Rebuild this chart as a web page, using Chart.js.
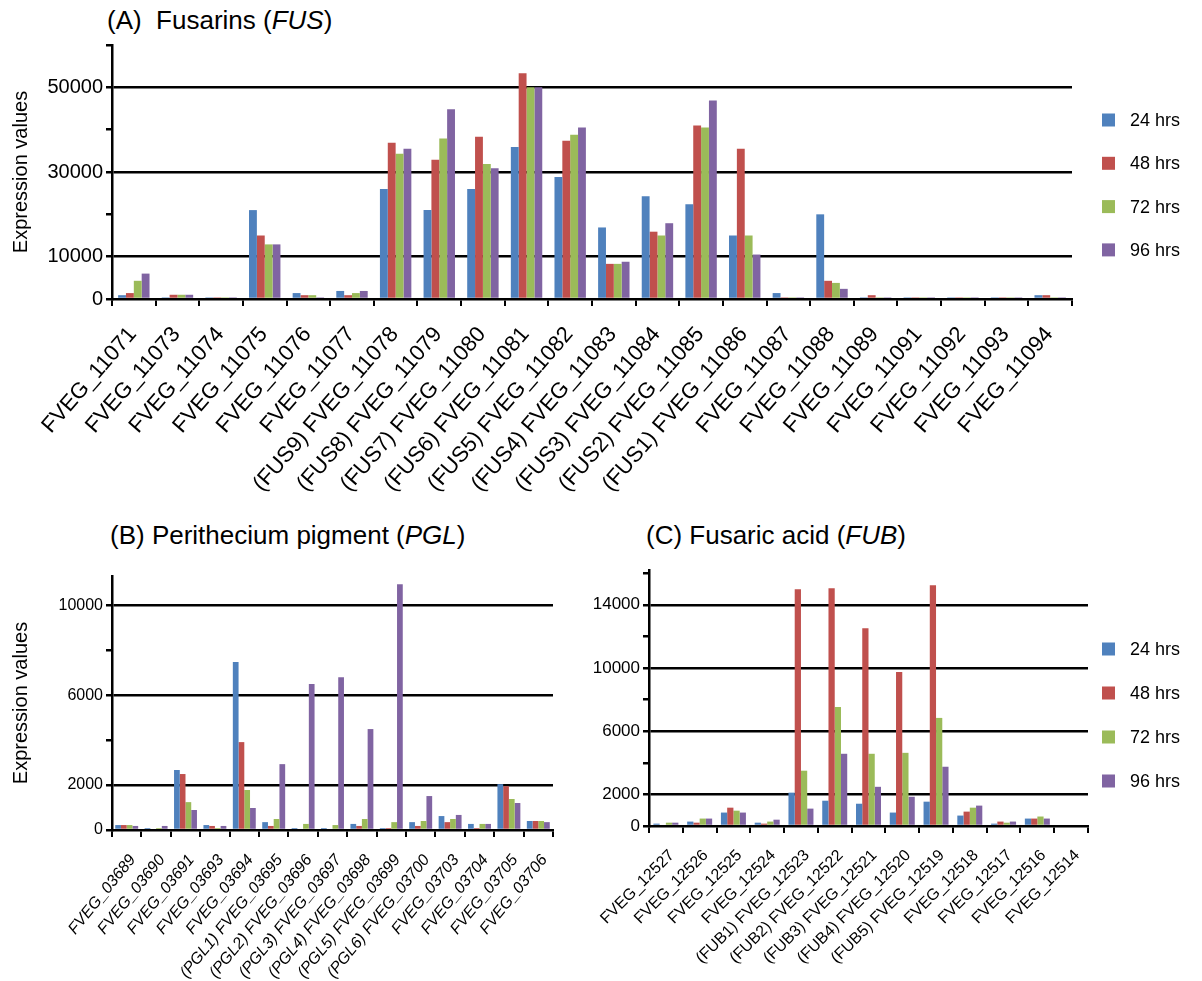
<!DOCTYPE html>
<html>
<head>
<meta charset="utf-8">
<script src="https://cdn.jsdelivr.net/npm/chart.js@4/dist/chart.umd.min.js"></script>
<style>
  html, body { margin: 0; padding: 0; background: #fff; }
  body { width: 1202px; height: 981px; position: relative; overflow: hidden;
         font-family: "Liberation Sans", Arial, sans-serif; color: #000; }
  canvas { position: absolute; }
  .ttl { position: absolute; font-size: 26px; line-height: 30px; white-space: pre; }
</style>
</head>
<body>
<div class="ttl" style="left:107px; top:5px;">(A)  Fusarins (<i>FUS</i>)</div>
<div class="ttl" style="left:110px; top:520px;">(B) Perithecium pigment (<i>PGL</i>)</div>
<div class="ttl" style="left:646px; top:520px;">(C) Fusaric acid (<i>FUB</i>)</div>
<canvas id="cA" width="1202" height="500" style="left:0; top:0;"></canvas>
<canvas id="cB" width="590" height="481" style="left:0; top:500px;"></canvas>
<canvas id="cC" width="622" height="481" style="left:580px; top:500px;"></canvas>
<script>
// Sampling times
const timePoints = ['24 hrs', '48 hrs', '72 hrs', '96 hrs'];
const seriesColors = ['#4F81BD', '#C0504D', '#9BBB59', '#8064A2'];

// (A) Fusarin cluster
const fusGenes = ['FVEG_11071', 'FVEG_11073', 'FVEG_11074', 'FVEG_11075', 'FVEG_11076', 'FVEG_11077',
  '(FUS9) FVEG_11078', '(FUS8) FVEG_11079', '(FUS7) FVEG_11080', '(FUS6) FVEG_11081', '(FUS5) FVEG_11082',
  '(FUS4) FVEG_11083', '(FUS3) FVEG_11084', '(FUS2) FVEG_11085', '(FUS1) FVEG_11086',
  'FVEG_11087', 'FVEG_11088', 'FVEG_11089', 'FVEG_11091', 'FVEG_11092', 'FVEG_11093', 'FVEG_11094'];
const fus24 = [900, 400, 400, 21000, 1400, 1900, 26000, 21000, 26000, 35900, 28800, 16900, 24300, 22400, 15000, 1400, 20000, 400, 400, 400, 400, 900];
const fus48 = [1400, 1000, 400, 15000, 900, 900, 36900, 32900, 38300, 53300, 37400, 8300, 15900, 41000, 35500, 400, 4300, 900, 400, 400, 400, 900];
const fus72 = [4300, 1000, 400, 12900, 900, 1400, 34300, 37900, 31900, 50000, 38800, 8300, 15000, 40500, 15000, 400, 3800, 400, 400, 400, 400, 400];
const fus96 = [6000, 1000, 400, 12900, 400, 1900, 35500, 44800, 30900, 50000, 40500, 8800, 17900, 46900, 10500, 400, 2400, 400, 400, 400, 400, 400];
const fusTicks = [0, 10000, 20000, 30000, 40000, 50000, 60000];
const fusLabelled = [0, 10000, 30000, 50000];

// (B) Perithecium pigment cluster
const pglGenes = ['FVEG_03689', 'FVEG_03690', 'FVEG_03691', 'FVEG_03693', 'FVEG_03694',
  '(PGL1) FVEG_03695', '(PGL2) FVEG_03696', '(PGL3) FVEG_03697', '(PGL4) FVEG_03698', '(PGL5) FVEG_03699',
  '(PGL6) FVEG_03700', 'FVEG_03703', 'FVEG_03704', 'FVEG_03705', 'FVEG_03706'];
const pgl24 = [220, 90, 2670, 220, 7470, 350, 90, 90, 270, 90, 350, 620, 270, 2040, 400];
const pgl48 = [220, 0, 2490, 180, 3910, 180, 0, 0, 180, 90, 180, 350, 90, 1950, 400];
const pgl72 = [220, 90, 1240, 90, 1780, 490, 270, 220, 490, 350, 400, 490, 270, 1380, 400];
const pgl96 = [180, 180, 890, 180, 980, 2930, 6490, 6800, 4490, 10930, 1510, 670, 270, 1200, 350];
const pglTicks = [0, 2000, 4000, 6000, 8000, 10000];
const pglLabelled = [0, 2000, 6000, 10000];

// (C) Fusaric acid cluster
const fubGenes = ['FVEG_12527', 'FVEG_12526', 'FVEG_12525', 'FVEG_12524',
  '(FUB1) FVEG_12523', '(FUB2) FVEG_12522', '(FUB3) FVEG_12521', '(FUB4) FVEG_12520', '(FUB5) FVEG_12519',
  'FVEG_12518', 'FVEG_12517', 'FVEG_12516', 'FVEG_12514'];
const fub24 = [150, 280, 850, 210, 2110, 1600, 1410, 850, 1540, 660, 150, 470, 0];
const fub48 = [0, 210, 1160, 150, 14980, 15050, 12510, 9740, 15240, 910, 280, 470, 0];
const fub72 = [210, 470, 970, 280, 3500, 7530, 4570, 4630, 6840, 1160, 210, 600, 0];
const fub96 = [210, 470, 850, 400, 1100, 4570, 2480, 1850, 3750, 1290, 280, 470, 0];
const fubTicks = [0, 2000, 4000, 6000, 8000, 10000, 12000, 14000, 16000];
const fubLabelled = [0, 2000, 6000, 10000, 14000];

const FONT = '"Liberation Sans", Arial, sans-serif';

// Legend drawn beside the plot, one row per time point
const sideLegend = {
  id: 'sideLegend',
  afterDraw(chart, args, opts) {
    if (!opts || !opts.display) return;
    const ctx = chart.ctx;
    ctx.save();
    ctx.font = opts.fontSize + 'px ' + FONT;
    ctx.textBaseline = 'middle';
    ctx.textAlign = 'left';
    chart.data.datasets.forEach((ds, i) => {
      const y = opts.y + i * opts.gap;
      ctx.fillStyle = ds.backgroundColor;
      ctx.fillRect(opts.x, y - opts.box / 2, opts.box, opts.box);
      ctx.fillStyle = '#000';
      ctx.fillText(ds.label, opts.x + opts.box + opts.textGap, y + 1);
    });
    ctx.restore();
  }
};

function makeChart(id, cfg) {
  const datasets = cfg.series.map((vals, i) => ({
    label: timePoints[i],
    data: vals,
    backgroundColor: seriesColors[i],
    borderWidth: 0,
    categoryPercentage: cfg.catPct,
    barPercentage: 1.0
  }));
  const canvas = document.getElementById(id);
  return new Chart(canvas, {
    type: 'bar',
    data: { labels: cfg.labels, datasets },
    plugins: [sideLegend],
    options: {
      responsive: false,
      animation: false,
      events: [],
      layout: { padding: cfg.padding },
      plugins: {
        legend: { display: false },
        tooltip: { enabled: false },
        title: { display: false },
        sideLegend: cfg.legend
      },
      scales: {
        x: {
          grid: { offset: true, drawOnChartArea: false, color: '#000', lineWidth: 2, tickLength: 7 },
          border: { color: '#000', width: 2.5 },
          ticks: {
            autoSkip: false,
            minRotation: cfg.rot, maxRotation: cfg.rot,
            color: '#000',
            padding: cfg.xPad,
            labelOffset: cfg.xOff,
            font: { family: FONT, size: cfg.xFont, style: cfg.xItalic ? 'italic' : 'normal' }
          },
          afterFit: s => { s.height = cfg.xHeight; }
        },
        y: {
          min: 0, max: cfg.yMax,
          afterBuildTicks: s => { s.ticks = cfg.yTicks.map(v => ({ value: v })); },
          grid: {
            color: c => (c.tick && c.tick.value !== 0 && cfg.yLabelled.includes(c.tick.value)) ? '#000' : 'rgba(0,0,0,0)',
            tickColor: '#000',
            lineWidth: 2.5,
            tickLength: 6
          },
          border: { color: '#000', width: 2.5 },
          ticks: {
            color: '#000',
            padding: 3,
            font: { family: FONT, size: cfg.yFont },
            callback: v => cfg.yLabelled.includes(v) ? String(v) : ''
          },
          title: cfg.yTitle ? {
            display: true,
            text: 'Expression values',
            color: '#000',
            font: { family: FONT, size: 20 },
            padding: { top: 9, bottom: 0 }
          } : { display: false },
          afterFit: s => { s.width = cfg.yWidth; }
        }
      }
    }
  });
}

makeChart('cA', {
  labels: fusGenes, series: [fus24, fus48, fus72, fus96],
  catPct: 0.72, padding: { left: 0, top: 45, right: 130, bottom: 0 },
  yWidth: 112, xHeight: 201, yMax: 60000, yTicks: fusTicks, yLabelled: fusLabelled,
  yFont: 20, yTitle: true, rot: 49, xFont: 22, xPad: 16, xOff: -1, xItalic: false,
  legend: { display: true, x: 1102, y: 120, gap: 43.3, box: 13, textGap: 15, fontSize: 18 }
});

makeChart('cB', {
  labels: pglGenes, series: [pgl24, pgl48, pgl72, pgl96],
  catPct: 0.78, padding: { left: 0, top: 76, right: 37, bottom: 0 },
  yWidth: 112, xHeight: 151, yMax: 11300, yTicks: pglTicks, yLabelled: pglLabelled,
  yFont: 16, yTitle: true, rot: 51, xFont: 16, xPad: 14, xOff: 6, xItalic: true,
  legend: { display: false }
});

makeChart('cC', {
  labels: fubGenes, series: [fub24, fub48, fub72, fub96],
  catPct: 0.74, padding: { left: 0, top: 70, right: 114, bottom: 0 },
  yWidth: 69, xHeight: 155, yMax: 16200, yTicks: fubTicks, yLabelled: fubLabelled,
  yFont: 17, yTitle: false, rot: 45, xFont: 16, xPad: 13, xOff: 6, xItalic: false,
  legend: { display: true, x: 1102 - 580, y: 149, gap: 44, box: 13, textGap: 15, fontSize: 18 }
});
</script>
</body>
</html>
